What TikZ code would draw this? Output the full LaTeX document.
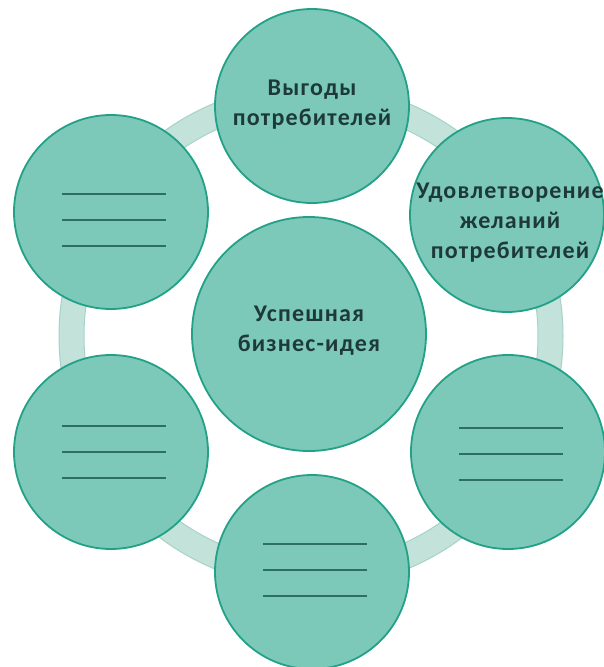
\documentclass[tikz,border=0pt]{standalone}
\usepackage{fontspec}
\setmainfont{Carlito}[LetterSpace=5]
\definecolor{ringfill}{HTML}{C2E2DA}
\definecolor{ringedge}{HTML}{A6D2C7}
\definecolor{bubblefill}{HTML}{7CC9BA}
\definecolor{bubbleedge}{HTML}{22A186}
\definecolor{labeltext}{HTML}{1E3A38}
\definecolor{blankink}{HTML}{2F6E67}

\begin{document}
\begin{tikzpicture}[x=1pt,y=-1pt,
    bubble/.style={circle,fill=bubblefill,draw=bubbleedge,line width=1.8pt,minimum size=194pt,inner sep=0pt},
    caption/.style={align=center,text=labeltext,font=\fontsize{24}{30}\selectfont\bfseries},
    blankrule/.style={draw=blankink,line width=2pt}]
    \useasboundingbox (0,0) rectangle (604,667);

    % ring behind the bubbles
    \draw[ringedge,fill=ringfill,line width=1pt] (311,336) circle[radius=252pt];
    \draw[ringedge,fill=white,line width=1pt] (311,336) circle[radius=227pt];

    \node[bubble,minimum size=234pt,label={[caption,yshift=3pt]center:Успешная\\бизнес-идея}] (idea) at (309,334) {};
    \node[bubble,label={[caption,yshift=1pt]center:Выгоды\\потребителей}] (benefit) at (312,106) {};
    \node[bubble,label={[caption,xshift=3pt,yshift=-8pt]center:Удовлетворение\\желаний\\потребителей}] (wish) at (507,215) {};
    \node[bubble] (lr) at (508,452) {};
    \node[bubble] (bt) at (312,572) {};
    \node[bubble] (ll) at (111,452) {};
    \node[bubble] (ul) at (111,212) {};

    \foreach \n/\dy in {ul/8,ll/0,lr/2,bt/-2}
        \foreach \k in {-26,0,26}
            \draw[blankrule] ([shift={(-49,\dy+\k)}]\n.center) -- ([shift={(55,\dy+\k)}]\n.center);
\end{tikzpicture}
\end{document}
